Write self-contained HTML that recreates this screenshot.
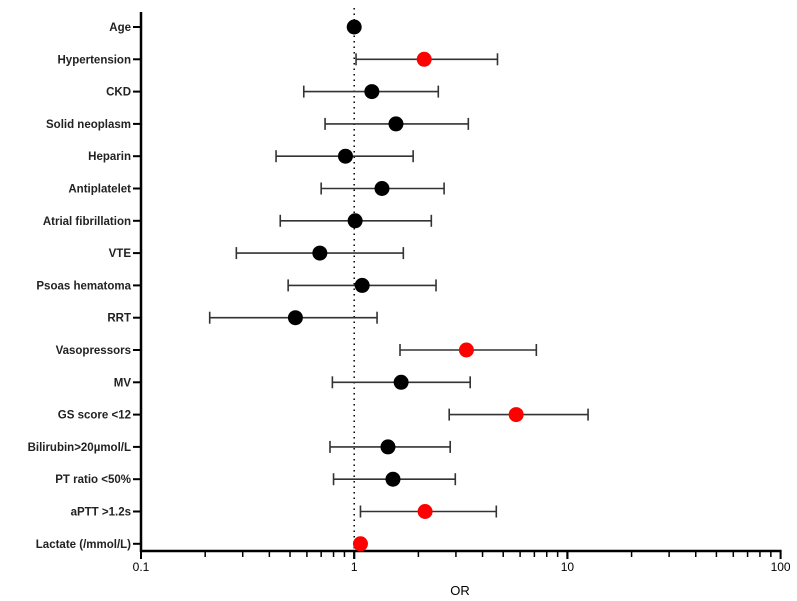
<!DOCTYPE html>
<html><head><meta charset="utf-8"><style>
body{margin:0;background:#fff;}
svg{display:block;font-family:"Liberation Sans",Arial,sans-serif;}
</style></head><body>
<svg id="chart" width="797" height="601"></svg>
<script>
const labels=["Age","Hypertension","CKD","Solid neoplasm","Heparin","Antiplatelet","Atrial fibrillation","VTE","Psoas hematoma","RRT","Vasopressors","MV","GS score <12","Bilirubin>20µmol/L","PT ratio <50%","aPTT >1.2s","Lactate (/mmol/L)"];
const orValues=[1.0,2.13,1.21,1.57,0.91,1.35,1.01,0.69,1.09,0.53,3.36,1.66,5.75,1.44,1.52,2.15,1.07];
const ciLow=[1.0,1.02,0.58,0.73,0.43,0.70,0.45,0.28,0.49,0.21,1.64,0.79,2.79,0.77,0.80,1.07,1.07];
const ciHigh=[1.0,4.7,2.48,3.43,1.89,2.64,2.30,1.70,2.42,1.28,7.15,3.5,12.5,2.82,2.98,4.64,1.07];
const significant=[0,1,0,0,0,0,0,0,0,0,1,0,1,0,0,1,1];
const xTicks=[0.1,1,10,100];

const NS="http://www.w3.org/2000/svg";
const svg=document.getElementById("chart");
const X0=141,DEC=213.2,AX_Y=551,Y0=27,STEP=32.3;
function xs(v){return X0+DEC*(Math.log10(v)+1);}
function ys(i){return Y0+STEP*i;}
function mk(tag,attrs,parent){const e=document.createElementNS(NS,tag);for(const k in attrs)e.setAttribute(k,attrs[k]);(parent||svg).appendChild(e);return e;}

// axes
let a=mk("line",{x1:X0,y1:12,x2:X0,y2:AX_Y+1,stroke:"#000","stroke-width":2.5});


a=mk("line",{x1:X0-1,y1:AX_Y,x2:xs(100)+1,y2:AX_Y,stroke:"#000","stroke-width":2.5});


// reference line
a=mk("line",{x1:xs(1),y1:8,x2:xs(1),y2:AX_Y,stroke:"#000","stroke-width":1.5,"stroke-dasharray":"1.5,4"});


// x ticks
for(let d=-1;d<2;d++){for(let m=1;m<=10;m++){const v=m*Math.pow(10,d);const major=(m===1||m===10);
 const t=mk("line",{x1:xs(v),y1:AX_Y,x2:xs(v),y2:AX_Y+(major?8:6),stroke:"#000","stroke-width":major?2:1.5});
 
 }}
xTicks.forEach(v=>{const t=mk("text",{x:xs(v),y:571,"text-anchor":"middle","font-size":12,fill:"#000"});t.textContent=String(v);
 
 });
const xt=mk("text",{x:460,y:595,"text-anchor":"middle","font-size":13,fill:"#000"});xt.textContent="OR";



labels.forEach((lab,i)=>{const y=ys(i);
 const tk=mk("line",{x1:X0-8,y1:y,x2:X0,y2:y,stroke:"#000","stroke-width":2});
 
 
 const t=mk("text",{x:X0-10,y:y+4,"text-anchor":"end","font-size":11.5,"font-weight":"bold",fill:"#222"});t.textContent=lab;
 
 
 const g=mk("g",{});
 
 
 const lo=xs(ciLow[i]),hi=xs(ciHigh[i]);
 if(hi-lo>2){
  mk("line",{x1:lo,y1:y,x2:hi,y2:y,stroke:"#333","stroke-width":1.6},g);
  mk("line",{x1:lo,y1:y-6,x2:lo,y2:y+6,stroke:"#333","stroke-width":1.6},g);
  mk("line",{x1:hi,y1:y-6,x2:hi,y2:y+6,stroke:"#333","stroke-width":1.6},g);
 }
 const c=mk("circle",{cx:xs(orValues[i]),cy:y,r:7.5,fill:significant[i]?"#ff0000":"#000"},g);
 
 
});
</script>
</body></html>
